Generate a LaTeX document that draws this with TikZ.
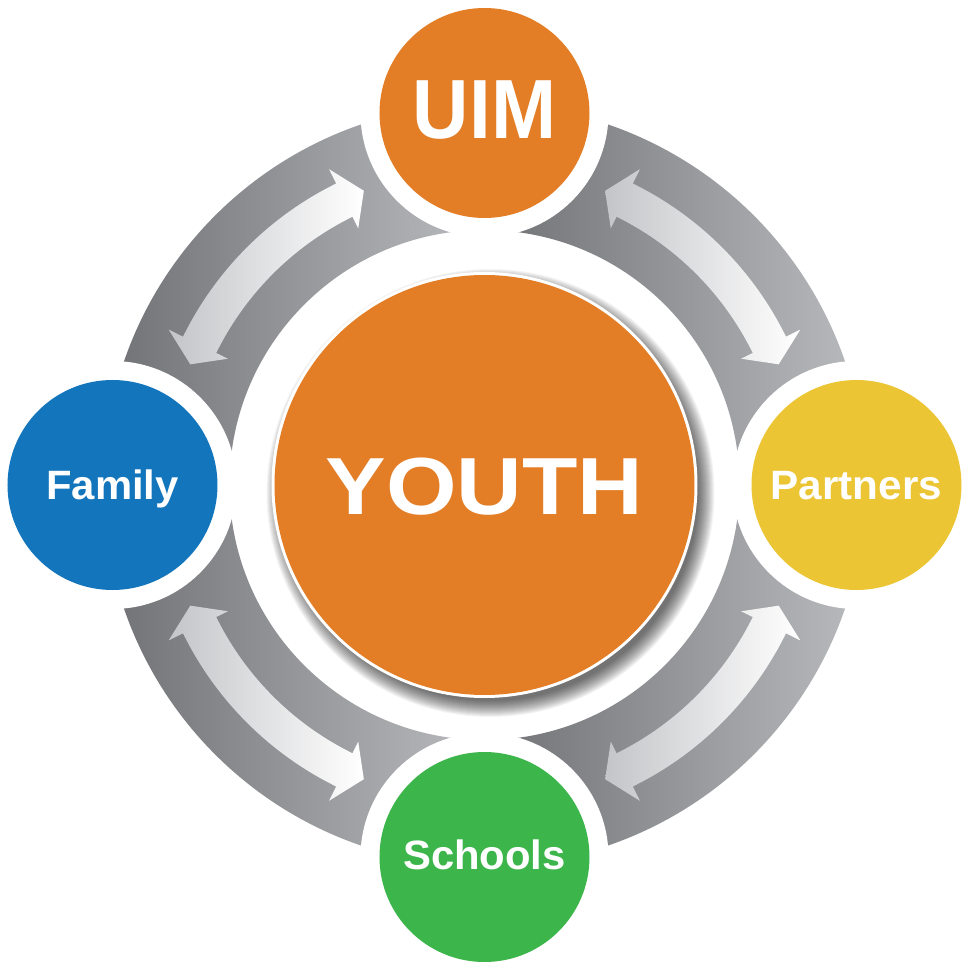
\documentclass[tikz,border=0pt]{standalone}
\usepackage{fontspec}
\setmainfont{Liberation Sans}
\usepackage{graphicx}
\definecolor{uimorange}{RGB}{227,126,38}
\definecolor{famblue}{RGB}{19,117,188}
\definecolor{partyellow}{RGB}{236,197,53}
\definecolor{schgreen}{RGB}{60,181,74}
\definecolor{ringdark}{RGB}{112,113,117}
\definecolor{ringlight}{RGB}{186,187,190}
\definecolor{arrowgray}{RGB}{196,197,200}
\begin{document}
\begin{tikzpicture}[x=0.5pt,y=0.5pt,
  satellite/.style={circle, minimum size=105pt, inner sep=0pt, text=white,
    font=\bfseries\fontsize{20.5pt}{20.5pt}\selectfont, text height=14.7pt, text depth=0pt},
  ringpart/.style={left color=ringdark, right color=ringlight},
  twoway/.style={left color=arrowgray, middle color=white, right color=white},
  halo/.style={fill=white}]
% canvas
\path[fill=white] (-484.5,-484) rectangle (484.5,485);
% grey ring quarters
\foreach \a in {0,90,180,270}{
  \pgfmathsetmacro{\b}{\a+90}
  \shade[ringpart] (\a:381) arc[start angle=\a, end angle=\b, radius=381]
     -- (\b:255) arc[start angle=\b, end angle=\a, radius=255] -- cycle;
}
% double-headed white arrows
\foreach \c in {45,135,225,315}{
  \pgfmathsetmacro{\ta}{\c-22.7}
  \pgfmathsetmacro{\ha}{\c-18.8}
  \pgfmathsetmacro{\hb}{\c+18.8}
  \pgfmathsetmacro{\tb}{\c+22.7}
  \shade[twoway] (\ta:318) -- (\ha:352) -- (\ha:336)
     arc[start angle=\ha, end angle=\hb, radius=336]
     -- (\hb:352) -- (\tb:318) -- (\hb:286) -- (\hb:299)
     arc[start angle=\hb, end angle=\ha, radius=299]
     -- (\ha:286) -- cycle;
}
% white halos round the satellites
\foreach \p in {(0,372),(-372,0),(372,0),(0,-372)}{
  \fill[halo] \p circle[radius=124];
}
% satellites
\node[satellite, fill=uimorange, font=\bfseries\fontsize{42pt}{42pt}\selectfont,
      text height=30.1pt, text depth=5pt] (uim) at (0,372) {\scalebox{0.93}[1]{UIM}};
\node[satellite, fill=famblue] (family) at (-372,0) {\scalebox{1.02}[1]{Family}};
\node[satellite, fill=partyellow] (partners) at (372,0) {\scalebox{1.03}[1]{Partners}};
\node[satellite, fill=schgreen, text depth=2.5pt] (schools) at (0,-372) {\scalebox{1.02}[1]{Schools}};
% shadow of the centre disc
\foreach \k in {0,...,16}{
  \pgfmathsetmacro{\rr}{208+\k}
  \fill[black, opacity=0.045] (6,-8) circle[radius=\rr];
}
\fill[white] (0,0) circle[radius=213];
\node[circle, fill=uimorange, minimum size=210pt, inner sep=0pt, text=white,
      font=\bfseries\fontsize{40.5pt}{40.5pt}\selectfont, text height=29pt, text depth=0pt]
      (youth) at (0,0) {\scalebox{1.12}[1]{YOUTH}};
% fix the page to the reference frame
\pgfresetboundingbox
\path[use as bounding box] (-484.5,-484) rectangle (484.5,485);
\end{tikzpicture}
\end{document}
